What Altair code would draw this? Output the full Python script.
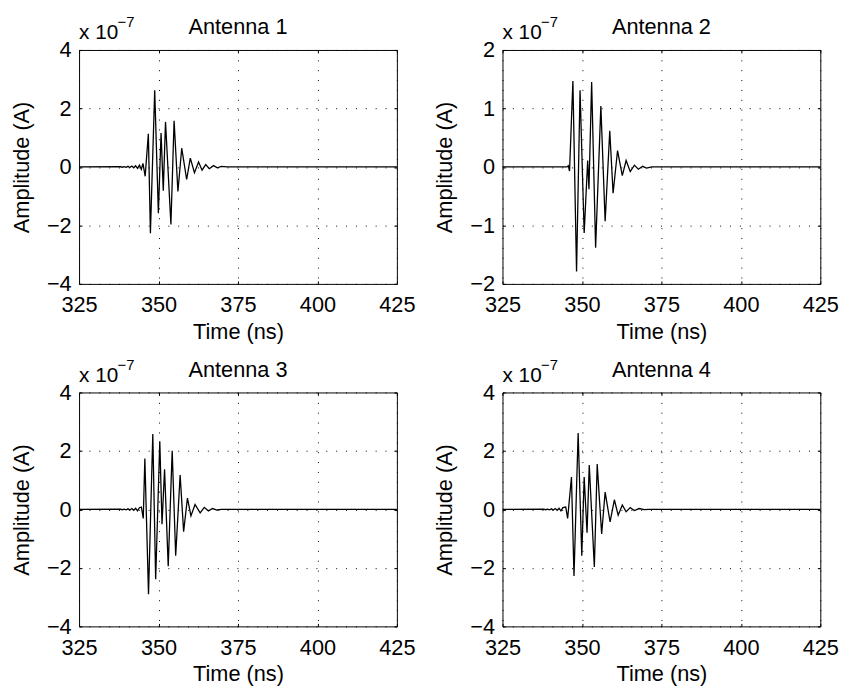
import altair as alt
import pandas as pd

FONT = "Liberation Sans"
W, H = 322, 237

titles = ["Antenna 1", "Antenna 2", "Antenna 3", "Antenna 4"]
exp_base = "x 10"
exp_power = "\u22127"
x_ticks = [325, 350, 375, 400, 425]
y_limits = [4, 2, 4, 4]
y_ticks = [[-4, -2, 0, 2, 4], [-2, -1, 0, 1, 2], [-4, -2, 0, 2, 4], [-4, -2, 0, 2, 4]]

# Antenna 1 (amplitude in units of 1e-7 A)
t1 = [325, 338.0, 338.6, 339.2, 339.8, 340.4, 341.0, 341.6, 342.2, 342.8, 343.4, 344.0,
      344.6, 345.1, 345.8, 346.8, 347.45, 348.8, 349.95, 350.8, 351.5, 352.2, 353.9,
      354.9, 356.1, 357.3, 358.85, 360.0, 361.3, 362.6, 363.7, 364.85, 366.0, 367.3,
      368.5, 369.8, 371.5, 425]
a1 = [0, 0.01, -0.01, 0.01, -0.015, 0.02, -0.02, 0.03, -0.03, 0.04, -0.05, 0.06,
      -0.08, 0.12, -0.32, 1.13, -2.27, 2.62, -1.58, 1.16, -0.81, 1.54, -1.97,
      1.58, -0.84, 0.64, -0.43, 0.30, -0.20, 0.17, -0.11, 0.08, -0.06, 0.045,
      -0.03, 0.02, 0, 0]

# Antenna 2
t2 = [325, 345.3, 345.7, 346.1, 347.15, 348.3, 349.4, 350.7, 351.8, 352.2, 353.05,
      354.3, 355.95, 357.3, 358.75, 359.8, 361.2, 362.7, 363.9, 365.2, 366.5, 367.75,
      369.1, 370.3, 372.0, 425]
a2 = [0, 0, 0.02, -0.07, 1.47, -1.79, 1.31, -1.13, 0.11, -0.38, 1.45,
      -1.38, 1.04, -0.93, 0.62, -0.45, 0.28, -0.15, 0.11, -0.08, 0.03, -0.04,
      0.01, -0.02, 0, 0]

# Antenna 3
t3 = [325, 338.0, 338.6, 339.2, 339.8, 340.4, 341.0, 341.6, 342.2, 342.8, 343.4, 344.0,
      344.6, 345.2, 345.7, 346.85, 348.2, 349.1, 350.4, 351.1, 351.9, 353.05, 354.3,
      355.4, 356.8, 357.9, 359.1, 360.2, 361.5, 363.1, 364.4, 365.7, 367.0, 368.4,
      369.8, 425]
a3 = [0, 0.01, -0.01, 0.01, -0.015, 0.02, -0.02, 0.03, -0.03, 0.04, -0.05, 0.06,
      0.08, -0.31, 1.74, -2.90, 2.58, -2.39, 2.33, -0.51, 1.37, -1.94, 2.01,
      -1.58, 1.18, -0.76, 0.39, -0.22, 0.17, -0.12, 0.07, -0.05, 0.03, -0.02,
      0, 0]

# Antenna 4
t4 = [325, 338.0, 338.6, 339.2, 339.8, 340.4, 341.0, 341.6, 342.2, 342.8, 343.4, 344.0,
      344.9, 345.5, 346.7, 347.5, 348.8, 349.95, 350.7, 351.6, 352.3, 353.9, 354.8,
      356.2, 357.3, 358.85, 360.2, 361.4, 362.7, 363.9, 365.2, 366.5, 368.0, 369.6,
      371.0, 425]
a4 = [0, 0.01, -0.01, 0.01, -0.015, 0.02, -0.02, 0.03, -0.03, 0.04, -0.05, 0.06,
      0.08, -0.31, 1.11, -2.28, 2.61, -1.58, 1.11, -0.80, 1.52, -1.97, 1.55,
      -0.84, 0.59, -0.43, 0.33, -0.20, 0.15, -0.08, 0.06, -0.04, 0.03, -0.01,
      0, 0]

series = [(t1, a1), (t2, a2), (t3, a3), (t4, a4)]


def panel(i):
    t, a = series[i]
    ymax = y_limits[i]
    df = pd.DataFrame({"t": t, "a": a})
    xs = alt.Scale(domain=[325, 425], nice=False, zero=False)
    ys = alt.Scale(domain=[-ymax, ymax], nice=False, zero=False)

    line = alt.Chart(df).mark_line(color="black", strokeWidth=1.3).encode(
        x=alt.X("t:Q", scale=xs, axis=alt.Axis(
            orient="bottom", values=x_ticks, format="d", title="Time (ns)",
            offset=-3, tickSize=3, labelPadding=11, domain=False,
            labelFlush=False, labelOverlap=False,
            grid=True, gridDash=[1, 9], gridColor="black", gridWidth=1,
            titleX=W / 2, titleY=58, titleBaseline="alphabetic", titleAlign="center")),
        y=alt.Y("a:Q", scale=ys, axis=alt.Axis(
            orient="left", values=y_ticks[i], format="d", title="Amplitude (A)",
            offset=-3, tickSize=3, labelPadding=8, domain=False,
            labelFlush=False, labelOverlap=False,
            grid=True, gridDash=[1, 9], gridColor="black", gridWidth=1,
            titleAngle=270, titleX=-54.5, titleY=H / 2,
            titleBaseline="alphabetic", titleAlign="center")),
    )

    tdf = pd.DataFrame({"t": [375], "a": [ymax], "label": [titles[i]]})
    title = alt.Chart(tdf).mark_text(
        font=FONT, fontSize=22, color="black", align="center",
        baseline="alphabetic", dy=-16
    ).encode(
        x=alt.X("t:Q", scale=xs, axis=alt.Axis(
            orient="top", values=x_ticks, labels=False, title=None, offset=-3,
            tickSize=3, domain=False, grid=False)),
        y=alt.Y("a:Q", scale=ys, axis=alt.Axis(
            orient="right", values=y_ticks[i], labels=False, title=None, offset=-3,
            tickSize=3, domain=False, grid=False)),
        text="label:N",
    )

    edf = pd.DataFrame({"t": [325], "a": [ymax], "base": [exp_base], "pow": [exp_power]})
    base = alt.Chart(edf).mark_text(
        font=FONT, fontSize=21, color="black", align="left",
        baseline="alphabetic", dy=-11
    ).encode(
        x=alt.X("t:Q", scale=xs, axis=None),
        y=alt.Y("a:Q", scale=ys, axis=None),
        text="base:N",
    )
    power = alt.Chart(edf).mark_text(
        font=FONT, fontSize=15, color="black", align="left",
        baseline="alphabetic", dx=39, dy=-23
    ).encode(
        x=alt.X("t:Q", scale=xs, axis=None),
        y=alt.Y("a:Q", scale=ys, axis=None),
        text="pow:N",
    )
    return alt.layer(line, title, base, power).resolve_axis(
        x="independent", y="independent"
    ).properties(width=W, height=H)


chart = alt.concat(
    panel(0), panel(1), panel(2), panel(3),
    columns=2, spacing={"row": 110, "column": 107}, bounds="flush"
).properties(
    padding={"left": 2, "top": 2, "right": 5, "bottom": 5}
).configure_view(
    stroke="black", strokeWidth=1
).configure_axis(
    labelFont=FONT, titleFont=FONT, labelFontSize=22, titleFontSize=22,
    titleFontWeight="normal", labelColor="black", titleColor="black",
    tickColor="black", tickWidth=1
)

chart.save("out.html", embed_options={"renderer": "svg", "actions": False})
